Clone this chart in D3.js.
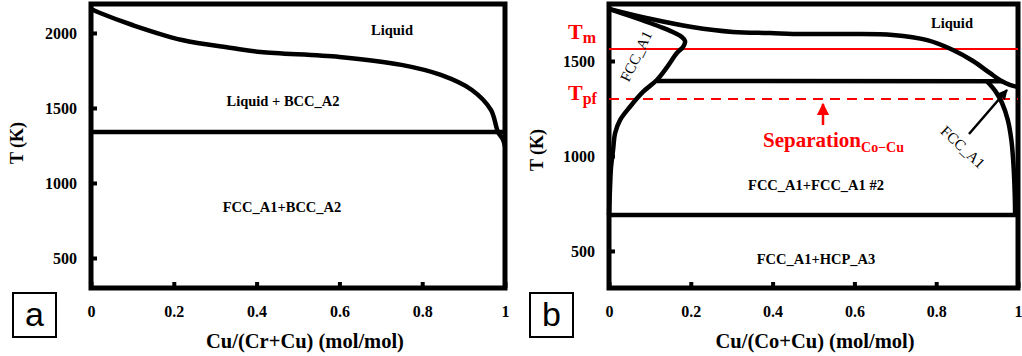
<!DOCTYPE html>
<html>
<head>
<meta charset="utf-8">
<script src="https://cdn.jsdelivr.net/npm/d3@7"></script>
<style>
  body { margin: 0; background: #fff; }
  svg { display: block; }
  text { font-family: "Liberation Serif", "Times New Roman", serif; }
</style>
</head>
<body>
<svg width="1022" height="356"></svg>
<script>
// ---- data ----
var xTicks = [0, 0.2, 0.4, 0.6, 0.8, 1];
var crTempTicks = [500, 1000, 1500, 2000];
var coTempTicks = [500, 1000, 1500];

// (a) Cr-Cu
var crLiquidus = [[0, 2160], [0.022, 2133], [0.1, 2053], [0.22, 1953], [0.34, 1900], [0.41, 1873],
                  [0.6, 1840], [0.75, 1787], [0.845, 1720], [0.92, 1620], [0.966, 1487],
                  [0.983, 1340], [0.995, 1290], [1, 1245]];
var crEutectic = [[0, 1340], [1, 1340]];

// (b) Co-Cu
var coLiquidus = [[0, 1774], [0.1, 1722], [0.203, 1679], [0.303, 1653], [0.394, 1647], [0.474, 1642],
                  [0.589, 1642], [0.694, 1637], [0.778, 1610], [0.841, 1558], [0.89, 1500],
                  [0.931, 1437], [0.961, 1393], [0.98, 1374], [1, 1363]];
var coFccLoop = [[0, 1774], [0.051, 1737], [0.1, 1700], [0.132, 1674], [0.161, 1647], [0.178, 1626],
                 [0.186, 1605], [0.181, 1574], [0.166, 1542], [0.142, 1468], [0.117, 1400],
                 [0.083, 1337], [0.051, 1258], [0.027, 1189], [0.015, 1121], [0.01, 1032],
                 [0.005, 942], [0.002, 805], [0, 689]];
var coCuSolvus = [[0.924, 1393], [0.945, 1340], [0.961, 1279], [0.975, 1190], [0.984, 1080],
                  [0.989, 950], [0.992, 800], [0.993, 689]];
var coPeritectic = [[0.117, 1395], [0.961, 1393]];
var coEutectoid = [[0, 689], [1, 689]];
var tmTemp = 1563;
var tpfTemp = 1300;

var svg = d3.select('svg');

function panel(opts) {
    var x = d3.scaleLinear().domain([0, 1]).range(opts.xRange);
    var y = d3.scaleLinear().domain(opts.yDomain).range([288, 4]);
    var g = svg.append('g');

    g.append('g')
        .attr('transform', 'translate(0,288)')
        .call(d3.axisBottom(x).tickValues(xTicks).tickSize(-6).tickPadding(18).tickFormat(d => String(d)))
        .call(a => a.select('.domain').remove())
        .call(a => a.selectAll('line').attr('stroke', '#000').attr('stroke-width', 4))
        .call(a => a.selectAll('text').attr('font-size', 16).attr('font-weight', 'bold')
                    .attr('font-family', '"Liberation Serif", serif').attr('fill', '#000'));

    g.append('g')
        .attr('transform', `translate(${opts.xRange[0]},0)`)
        .call(d3.axisLeft(y).tickValues(opts.yTicks).tickSize(-6).tickPadding(14).tickFormat(d => String(d)))
        .call(a => a.select('.domain').remove())
        .call(a => a.selectAll('line').attr('stroke', '#000').attr('stroke-width', 4))
        .call(a => a.selectAll('text').attr('font-size', 16).attr('font-weight', 'bold')
                    .attr('font-family', '"Liberation Serif", serif').attr('fill', '#000'));

    // frame
    g.append('rect')
        .attr('x', opts.xRange[0]).attr('y', 4)
        .attr('width', opts.xRange[1] - opts.xRange[0]).attr('height', 284)
        .attr('fill', 'none').attr('stroke', '#000').attr('stroke-width', 5);

    // axis titles
    g.append('text')
        .attr('transform', `translate(${opts.yTitleX},${opts.yTitleY}) rotate(-90)`)
        .attr('text-anchor', 'middle')
        .attr('font-size', 18).attr('font-weight', 'bold')
        .text('T (K)');
    g.append('text')
        .attr('x', opts.xTitleX).attr('y', 348)
        .attr('text-anchor', 'middle')
        .attr('font-size', 20.5).attr('font-weight', 'bold')
        .text(opts.xTitle);

    // panel letter box
    g.append('rect')
        .attr('x', opts.box[0]).attr('y', 293).attr('width', 43).attr('height', 44)
        .attr('fill', 'none').attr('stroke', '#000').attr('stroke-width', 2);
    g.append('text')
        .attr('x', opts.box[0] + 21.5).attr('y', 326)
        .attr('text-anchor', 'middle')
        .style('font-family', '"Liberation Sans Narrow", "Liberation Sans", sans-serif')
        .attr('font-size', 34)
        .text(opts.letter);

    return {g: g, x: x, y: y};
}

function drawCurve(p, data, curve) {
    var line = d3.line()
        .x(d => p.x(d[0]))
        .y(d => p.y(d[1]))
        .curve(curve || d3.curveLinear);
    p.g.append('path')
        .attr('d', line(data))
        .attr('fill', 'none')
        .attr('stroke', '#000')
        .attr('stroke-width', 4.5)
        .attr('stroke-linejoin', 'round');
}

function label(p, px, py, txt, size) {
    p.g.append('text')
        .attr('x', px).attr('y', py).attr('dy', '0.35em')
        .attr('text-anchor', 'middle')
        .attr('font-size', size || 14.5).attr('font-weight', 'bold')
        .text(txt);
}

// ---- panel a ----
var pa = panel({
    xRange: [91, 505], yDomain: [300, 2193], yTicks: crTempTicks,
    yTitleX: 23, yTitleY: 143, xTitleX: 305, xTitle: 'Cu/(Cr+Cu) (mol/mol)',
    box: [13], letter: 'a'
});
drawCurve(pa, crEutectic);
drawCurve(pa, crLiquidus, d3.curveCatmullRom);
label(pa, 392, 30, 'Liquid');
label(pa, 283, 101, 'Liquid + BCC_A2');
label(pa, 282, 207, 'FCC_A1+BCC_A2');

// ---- panel b ----
var pb = panel({
    xRange: [609, 1018], yDomain: [305, 1800], yTicks: coTempTicks,
    yTitleX: 543, yTitleY: 150, xTitleX: 815, xTitle: 'Cu/(Co+Cu) (mol/mol)',
    box: [530], letter: 'b'
});

// red reference lines
pb.g.append('line')
    .attr('x1', pb.x(0)).attr('x2', pb.x(1))
    .attr('y1', pb.y(tmTemp)).attr('y2', pb.y(tmTemp))
    .attr('stroke', '#f00').attr('stroke-width', 2);
pb.g.append('line')
    .attr('x1', pb.x(0)).attr('x2', pb.x(1))
    .attr('y1', pb.y(tpfTemp)).attr('y2', pb.y(tpfTemp))
    .attr('stroke', '#f00').attr('stroke-width', 2.2).attr('stroke-dasharray', '10,7');

drawCurve(pb, coEutectoid);
drawCurve(pb, coPeritectic);
drawCurve(pb, coLiquidus, d3.curveCatmullRom);
drawCurve(pb, coFccLoop, d3.curveCatmullRom);
drawCurve(pb, coCuSolvus, d3.curveCatmullRom);

label(pb, 952, 23, 'Liquid');
label(pb, 816, 185, 'FCC_A1+FCC_A1 #2');
label(pb, 816, 259, 'FCC_A1+HCP_A3');

// rotated FCC_A1 labels
pb.g.append('text')
    .attr('transform', 'translate(636,56) rotate(-64)')
    .attr('text-anchor', 'middle').attr('dy', '0.35em')
    .attr('font-size', 15)
    .text('FCC_A1');
pb.g.append('text')
    .attr('transform', 'translate(963,147) rotate(43)')
    .attr('text-anchor', 'middle').attr('dy', '0.35em')
    .attr('font-size', 15)
    .text('FCC_A1');

// arrowheads
var defs = svg.append('defs');
defs.append('marker').attr('id', 'ahBlack')
    .attr('viewBox', '0 0 10 10').attr('refX', 9).attr('refY', 5)
    .attr('markerWidth', 4).attr('markerHeight', 4).attr('orient', 'auto')
    .append('path').attr('d', 'M0,0L10,5L0,10z').attr('fill', '#000');
defs.append('marker').attr('id', 'ahRed')
    .attr('viewBox', '0 0 10 10').attr('refX', 9).attr('refY', 5)
    .attr('markerWidth', 5).attr('markerHeight', 5).attr('orient', 'auto')
    .append('path').attr('d', 'M0,0L10,5L0,10z').attr('fill', '#f00');

pb.g.append('line')
    .attr('x1', 969).attr('y1', 134).attr('x2', 1007).attr('y2', 90)
    .attr('stroke', '#000').attr('stroke-width', 2.5)
    .attr('marker-end', 'url(#ahBlack)');
pb.g.append('line')
    .attr('x1', 823).attr('y1', 125).attr('x2', 823).attr('y2', 104)
    .attr('stroke', '#f00').attr('stroke-width', 2.5)
    .attr('marker-end', 'url(#ahRed)');

// red annotations
var sep = pb.g.append('text')
    .attr('x', 763).attr('y', 147)
    .attr('fill', '#f00').attr('font-weight', 'bold').attr('font-size', 21);
sep.append('tspan').text('Separation');
sep.append('tspan').attr('dy', 5).attr('font-size', 14).text('Co\u2212Cu');

var tm = pb.g.append('text')
    .attr('x', 568).attr('y', 39)
    .attr('fill', '#f00').attr('font-weight', 'bold').attr('font-size', 22);
tm.append('tspan').text('T');
tm.append('tspan').attr('dy', 4).attr('font-size', 16).text('m');

var tpf = pb.g.append('text')
    .attr('x', 568).attr('y', 100)
    .attr('fill', '#f00').attr('font-weight', 'bold').attr('font-size', 22);
tpf.append('tspan').text('T');
tpf.append('tspan').attr('dy', 4).attr('font-size', 16).text('pf');
</script>
</body>
</html>
